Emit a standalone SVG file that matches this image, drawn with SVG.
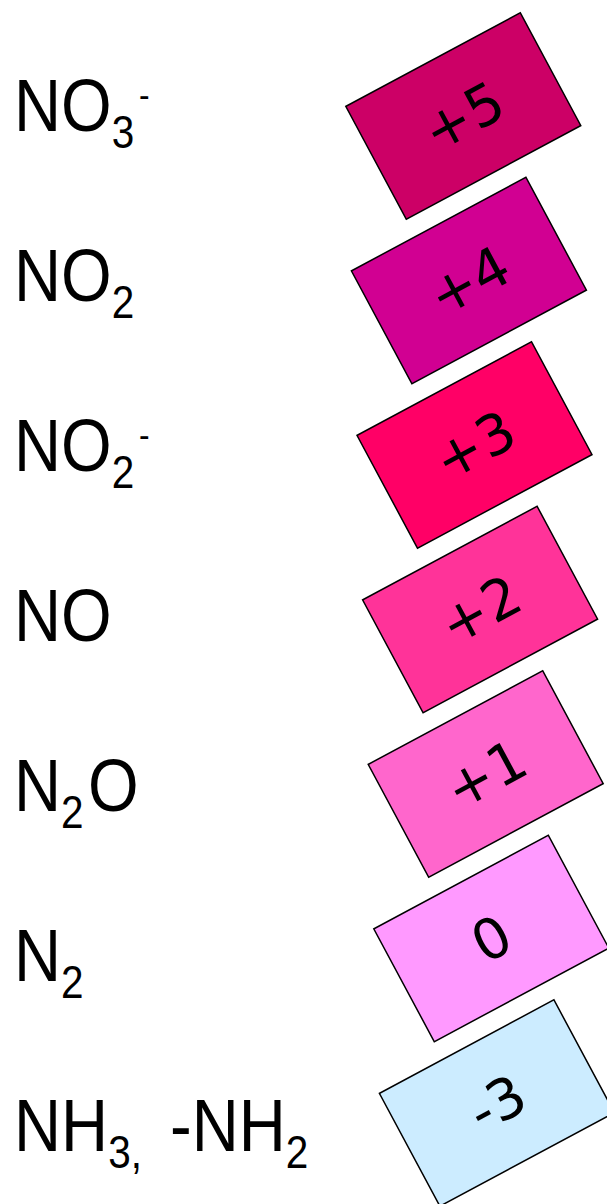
<svg xmlns="http://www.w3.org/2000/svg" width="607" height="1204" viewBox="0 0 607 1204">
<style>
.lbl{font-family:"Liberation Sans",Arial,sans-serif;font-size:74px;fill:#000}
.sub{font-size:46px}
.sup{font-size:36px}
.box rect{stroke:#000;stroke-width:1.5}
.num{font-family:"DejaVu Sans",Verdana,sans-serif;font-size:56px;fill:#000;text-anchor:middle}
</style>
<rect width="607" height="1204" fill="#fff"/>
<g id="label-no3">
<text class="lbl" transform="translate(14.1,131) scale(0.88,1)">NO<tspan class="sub" dy="17">3</tspan><tspan class="sup" x="142" dy="-41">-</tspan></text>
</g>
<g id="label-no2">
<text class="lbl" transform="translate(14.1,301) scale(0.88,1)">NO<tspan class="sub" dy="17">2</tspan></text>
</g>
<g id="label-no2minus">
<text class="lbl" transform="translate(14.1,471) scale(0.88,1)">NO<tspan class="sub" dy="17">2</tspan><tspan class="sup" x="142" dy="-41">-</tspan></text>
</g>
<g id="label-no">
<text class="lbl" transform="translate(14.1,641) scale(0.88,1)">NO</text>
</g>
<g id="label-n2o">
<text class="lbl" transform="translate(14.1,811) scale(0.88,1)">N<tspan class="sub" dy="17">2</tspan><tspan dx="5" dy="-17">O</tspan></text>
</g>
<g id="label-n2">
<text class="lbl" transform="translate(14.1,981) scale(0.88,1)">N<tspan class="sub" dy="17">2</tspan></text>
</g>
<g id="label-nh3">
<text class="lbl" transform="translate(14.1,1151) scale(0.88,1)">NH<tspan class="sub" dy="17">3,</tspan><tspan x="177.2" dy="-17">-NH</tspan><tspan class="sub" dy="17">2</tspan></text>
</g>
<g id="box-p5" class="box" transform="translate(463.3,116) rotate(-28.2)">
<rect x="-99" y="-64" width="198" height="128" fill="#CC0066"/>
<text class="num" y="20">+5</text>
</g>
<g id="box-p4" class="box" transform="translate(468.9,280.5) rotate(-28.2)">
<rect x="-99" y="-64" width="198" height="128" fill="#D10092"/>
<text class="num" y="20">+4</text>
</g>
<g id="box-p3" class="box" transform="translate(474.5,445) rotate(-28.2)">
<rect x="-99" y="-64" width="198" height="128" fill="#FF0066"/>
<text class="num" y="20">+3</text>
</g>
<g id="box-p2" class="box" transform="translate(480.1,609.5) rotate(-28.2)">
<rect x="-99" y="-64" width="198" height="128" fill="#FF3399"/>
<text class="num" y="20">+2</text>
</g>
<g id="box-p1" class="box" transform="translate(485.7,774) rotate(-28.2)">
<rect x="-99" y="-64" width="198" height="128" fill="#FF66CC"/>
<text class="num" y="20">+1</text>
</g>
<g id="box-0" class="box" transform="translate(491.3,938.5) rotate(-28.2)">
<rect x="-99" y="-64" width="198" height="128" fill="#FF99FF"/>
<text class="num" y="20">0</text>
</g>
<g id="box-m3" class="box" transform="translate(496.9,1103) rotate(-28.2)">
<rect x="-99" y="-64" width="198" height="128" fill="#CCECFF"/>
<text class="num" y="20">-3</text>
</g>
<g id="connectors"/>
</svg>
